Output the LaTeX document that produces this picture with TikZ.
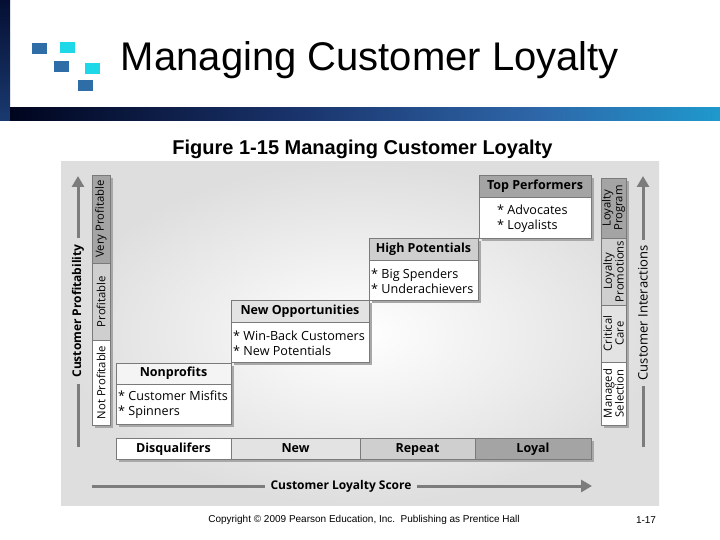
\documentclass[tikz,border=0pt]{standalone}
\usepackage{fontspec}
\setmainfont{Liberation Sans}
\newfontfamily\figfont{Open Sans}
\usetikzlibrary{arrows.meta}
\definecolor{navytop}{HTML}{050F33}
\definecolor{navybot}{HTML}{1A3A70}
\definecolor{sqblue}{HTML}{2E6DA6}
\definecolor{sqcyan}{HTML}{1ED8E8}
\definecolor{edge}{HTML}{7A7A7A}
\definecolor{shadowc}{HTML}{A8A8A8}
\definecolor{axisc}{HTML}{7C7C7C}
\definecolor{gA}{HTML}{A4A4A4}
\definecolor{gB}{HTML}{CFCFCF}
\definecolor{gC}{HTML}{E3E3E3}
\definecolor{gD}{HTML}{F4F4F4}
\pgfdeclarehorizontalshading{barshade}{100bp}{
  rgb(0bp)=(0,0.02,0.12);
  rgb(25bp)=(0,0.02,0.12);
  rgb(45bp)=(0.1,0.2,0.42);
  rgb(62bp)=(0.18,0.4,0.66);
  rgb(75bp)=(0.12,0.6,0.8);
  rgb(75bp)=(0.12,0.6,0.8);
  rgb(88bp)=(0.05,0.85,0.92);
  rgb(100bp)=(0,0.95,0.96)}
\tikzset{
  cell/.style={draw=edge, line width=0.8pt, inner sep=0pt, outer sep=0pt, text height=9pt, text depth=2.5pt, font=\figfont\fontsize{12.5}{14}\selectfont},
  bcell/.style={cell, font=\figfont\bfseries\fontsize{12.5}{14}\selectfont},
  vcell/.style={draw=edge, line width=0.8pt, inner sep=0pt, outer sep=0pt, rotate=90, font=\figfont\fontsize{11.3}{11.8}\selectfont, align=center},
  body/.style={anchor=west, inner sep=0pt, align=left, font=\figfont\fontsize{12.6}{15}\selectfont},
  axisline/.style={draw=axisc, line width=3pt},
  axislabel/.style={inner sep=0pt, outer sep=6pt, font=\figfont\fontsize{13}{14}\selectfont},
  sq/.style={minimum width=15pt, minimum height=11pt, inner sep=0pt}
}
\begin{document}
\begin{tikzpicture}[x=1pt,y=-1pt]
\useasboundingbox (0,0) rectangle (720,540);
\fill[white] (0,0) rectangle (720,540);
% decoration
\shade[top color=navytop, bottom color=navybot] (0,0) rectangle (10,121);
\shade[shading=barshade] (10,108) rectangle (720,121);
\node[sq, fill=sqblue] (s1) at (39.5,48.5) {};
\node[sq, fill=sqcyan] (s2) at (67.5,47.5) {};
\node[sq, fill=sqblue] (s3) at (61.5,66.5) {};
\node[sq, fill=sqcyan] (s4) at (92.5,68.5) {};
\node[sq, fill=sqblue] (s5) at (85.5,85.5) {};
\node[font=\fontsize{40}{44}\selectfont, inner sep=0pt] (title) at (370,60) {Managing Customer Loyalty};
\node[font=\bfseries\fontsize{20}{24}\selectfont, inner sep=0pt] (fig) at (362.5,149) {Figure 1-15 Managing Customer Loyalty};
% figure background
\shade[inner color=white, outer color=gray!26] (61,162) rectangle (659,505);
% axes
\node[axislabel, rotate=90, font=\figfont\bfseries\fontsize{12}{14}\selectfont] (yl) at (78,311) {Customer Profitability};
\coordinate (ybot) at (78,447);
\coordinate (ytop) at (78,176);
\draw[axisline] (ybot) -- (yl.west);
\draw[axisline, -{Triangle[width=12pt,length=11pt]}] (yl.east) -- (ytop);
\node[axislabel, rotate=90] (ir) at (643,313) {Customer Interactions};
\coordinate (rbot) at (643,447);
\coordinate (rtop) at (643,176);
\draw[axisline] (rbot) -- (ir.west);
\draw[axisline, -{Triangle[width=12pt,length=11pt]}] (ir.east) -- (rtop);
\node[axislabel, font=\figfont\bfseries\fontsize{12}{14}\selectfont] (xl) at (341,486) {Customer Loyalty Score};
\coordinate (xleft) at (92,486);
\coordinate (xright) at (592,486);
\draw[axisline] (xleft) -- (xl.west);
\draw[axisline, -{Triangle[width=12pt,length=11pt]}] (xl.east) -- (xright);
% shadows
\fill[shadowc] (95,178) rectangle (113,428);
\fill[shadowc] (604,181) rectangle (629,428);
\fill[shadowc] (119,441) rectangle (594,462);
\fill[shadowc] (119,366) rectangle (234,427);
\fill[shadowc] (234,303) rectangle (372,365);
\fill[shadowc] (372,241) rectangle (481,303);
\fill[shadowc] (482,178) rectangle (594,241);
% left column
\node[vcell, fill=gA, minimum width=88pt, minimum height=18pt] (vp) at (101,219) {Very Profitable};
\node[vcell, fill=gB, minimum width=77pt, minimum height=18pt] (pr) at (101,301.5) {Profitable};
\node[vcell, fill=white, minimum width=85pt, minimum height=18pt] (np) at (101,382.5) {Not Profitable};
% right column
\node[vcell, fill=gA, minimum width=60pt, minimum height=25pt] (lp) at (613.5,208) {Loyalty\\Program};
\node[vcell, fill=gB, minimum width=67pt, minimum height=25pt] (lpr) at (613.5,271.5) {Loyalty\\Promotions};
\node[vcell, fill=gC, minimum width=57pt, minimum height=25pt] (cc) at (613.5,333.5) {Critical\\Care};
\node[vcell, fill=white, minimum width=63pt, minimum height=25pt] (ms) at (613.5,393.5) {Managed\\Selection};
% bottom row
\node[bcell, fill=white, minimum width=115pt, minimum height=21pt] (dq) at (173.5,449) {Disqualifers};
\node[bcell, fill=gC, minimum width=129pt, minimum height=21pt] (nw) at (295.5,449) {New};
\node[bcell, fill=gB, minimum width=115pt, minimum height=21pt] (rp) at (417.5,449) {Repeat};
\node[bcell, fill=gA, minimum width=116pt, minimum height=21pt] (ly) at (533,449) {Loyal};
% Nonprofits
\node[bcell, fill=gD, minimum width=115pt, minimum height=21pt] (nph) at (173.5,373.5) {Nonprofits};
\node[cell, fill=white, minimum width=115pt, minimum height=40pt] (npb) at (173.5,404) {};
\node[body] (npt) at ([xshift=2pt,yshift=-1pt]npb.west) {* Customer Misfits\\* Spinners};
% New Opportunities
\node[bcell, fill=gC, minimum width=138pt, minimum height=22pt] (noh) at (300,311) {New Opportunities};
\node[cell, fill=white, minimum width=138pt, minimum height=40pt] (nob) at (300,342) {};
\node[body] (not) at ([xshift=2pt,yshift=-1pt]nob.west) {* Win-Back Customers\\* New Potentials};
% High Potentials
\node[bcell, fill=gB, minimum width=109pt, minimum height=22pt] (hph) at (423.5,249) {High Potentials};
\node[cell, fill=white, minimum width=109pt, minimum height=40pt] (hpb) at (423.5,280) {};
\node[body] (hpt) at ([xshift=2pt,yshift=-1pt]hpb.west) {* Big Spenders\\* Underachievers};
% Top Performers
\node[bcell, fill=gA, minimum width=112pt, minimum height=22pt] (tph) at (535,186) {Top Performers};
\node[cell, fill=white, minimum width=112pt, minimum height=41pt] (tpb) at (535,217.5) {};
\node[body] (tpt) at ([xshift=18pt,yshift=-1pt]tpb.west) {* Advocates\\* Loyalists};
% footer
\node[font=\fontsize{10}{12}\selectfont, inner sep=0pt] (copy) at (364,520) {Copyright \textcopyright{} 2009 Pearson Education, Inc.\ \ Publishing as Prentice Hall};
\node[font=\fontsize{10}{12}\selectfont, inner sep=0pt] (pg) at (646,520) {1-17};
\end{tikzpicture}
\end{document}
